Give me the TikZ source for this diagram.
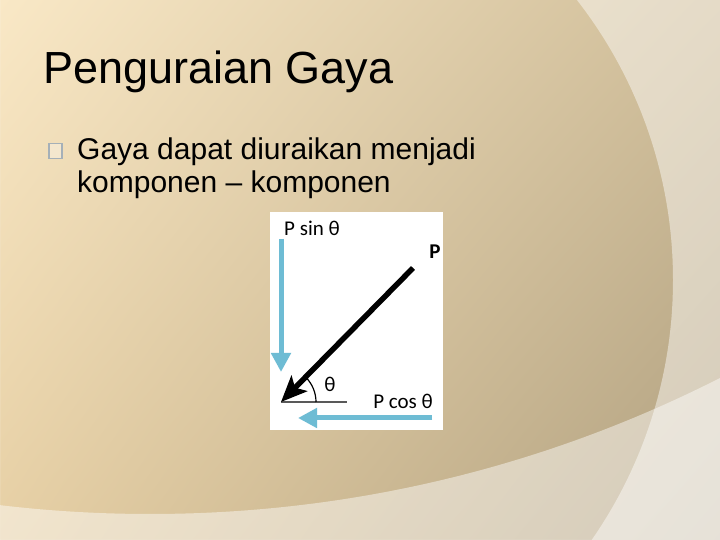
\documentclass[tikz,border=0pt]{standalone}
\usepackage{fontspec}
\setmainfont{Liberation Sans}
\newfontfamily\figfont{Carlito}
\usetikzlibrary{arrows.meta,calc,shadings}

\definecolor{bgUL}{RGB}{249,232,198}
\definecolor{bgUR}{RGB}{208,190,154}
\definecolor{bgLL}{RGB}{230,207,164}
\definecolor{bgLR}{RGB}{176,160,128}
\definecolor{compblue}{RGB}{110,188,212}
\definecolor{boxgray}{RGB}{165,176,184}

\begin{document}
\begin{tikzpicture}[x=1pt,y=1pt,
  comp arrow/.style={draw=compblue,line width=5pt,
    -{Triangle[width=19pt,length=19pt]}},
  force arrow/.style={draw=black,line width=5.5pt,
    -{Stealth[width=22pt,length=26pt,inset=6pt]}},
  fig label/.style={font=\figfont\fontsize{21}{24}\selectfont,inner sep=0pt}]

  \useasboundingbox (0,0) rectangle (720,540);

  % background of the slide
  \shade[upper left=bgUL,upper right=bgUR,lower left=bgLL,lower right=bgLR]
    (0,0) rectangle (720,540);
  \fill[white,opacity=0.45,even odd rule]
    (0,0) rectangle (720,540) (217,260) circle[radius=456pt];
  \fill[white,opacity=0.45,even odd rule]
    (0,0) rectangle (720,540) (150,1286) circle[radius=1260pt];

  % title and bullet
  \node (title) [anchor=base west,inner sep=0pt,
    font=\fontsize{45}{54}\selectfont] at (43,456) {Penguraian Gaya};
  \node (bullet) [draw=boxgray,fill=white,fill opacity=0.3,draw opacity=1,
    line width=1.3pt,minimum width=13pt,minimum height=15pt,inner sep=0pt] at (55.5,389) {};
  \node (line1) [anchor=base west,inner sep=0pt,
    font=\fontsize{30}{36}\selectfont] at (77,380) {Gaya dapat diuraikan menjadi};
  \node (line2) [anchor=base west,inner sep=0pt,
    font=\fontsize{30}{36}\selectfont] at (77,347) {komponen -- komponen};

  % the figure
  \node (fig) [fill=white,inner sep=0pt,minimum width=173pt,minimum height=218pt,
    anchor=south west] at (270,110) {};

  \coordinate (sintop) at (281,301);
  \coordinate (sinend) at (281,168);
  \coordinate (ptail) at (413,272);
  \coordinate (origin) at (281,138);
  \coordinate (axis) at (347,138);
  \coordinate (costail) at (432,122);
  \coordinate (cosend) at (298,122);

  \draw[gray!70!black,line width=1.3pt] (origin) -- (axis);
  \draw[line width=1.2pt] ($(origin)+(35,0)$) arc[start angle=0,end angle=44,radius=35pt];
  \draw[comp arrow] (sintop) -- (sinend);
  \draw[comp arrow] (costail) -- (cosend);
  \draw[force arrow] (ptail) -- (origin);

  \node (psin) [fig label,anchor=west] at (284,312) {P sin θ};
  \node (pforce) [fig label,font=\figfont\bfseries\fontsize{21}{24}\selectfont] at (435,288) {P};
  \node (theta) [fig label] at (330,156) {θ};
  \node (pcos) [fig label] at (403,139) {P cos θ};
\end{tikzpicture}
\end{document}
